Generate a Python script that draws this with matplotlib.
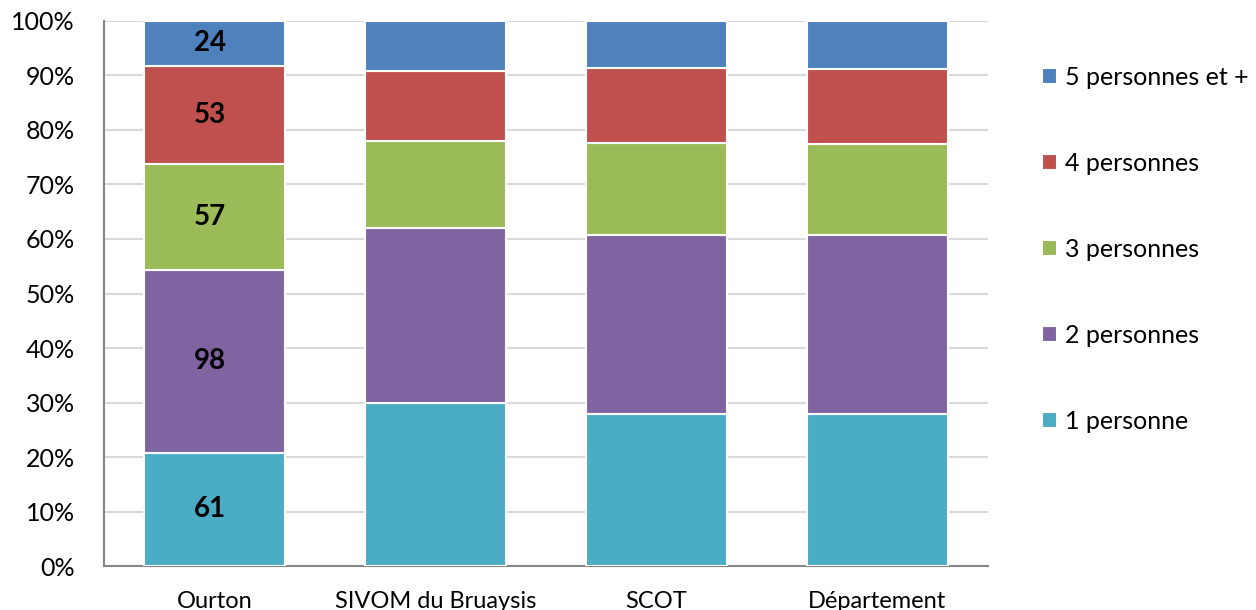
import numpy as np
import matplotlib
matplotlib.use('Agg')
import matplotlib.pyplot as plt

plt.rcParams['font.family'] = ['Lato', 'DejaVu Sans']

# données
categories = ['Ourton', 'SIVOM du Bruaysis', 'SCOT', 'Département']
series = ['1 personne', '2 personnes', '3 personnes', '4 personnes', '5 personnes et +']
colors = ['#4BACC6', '#8064A2', '#9BBB59', '#C0504D', '#4F81BD']

# Ourton : nombre de ménages (étiquettes)
ourton_counts = [61, 98, 57, 53, 24]
# autres territoires : parts en %
sivom = [29.9, 32.1, 16.0, 12.8, 9.2]
scot = [27.9, 32.8, 17.0, 13.7, 8.6]
departement = [27.9, 32.8, 16.7, 13.7, 8.9]

ourton = list(np.array(ourton_counts) / sum(ourton_counts) * 100)
shares = np.array([ourton, sivom, scot, departement]).T  # séries x catégories
shares = shares / shares.sum(axis=0) * 100

fig = plt.figure(figsize=(12.56, 6.10), dpi=100)
ax = fig.add_axes([0.0828, 0.0721, 0.7038, 0.8935])

x = np.arange(len(categories))
bottom = np.zeros(len(categories))
for i, name in enumerate(series):
    ax.bar(x, shares[i], 0.635, bottom=bottom, color=colors[i],
           edgecolor='white', linewidth=1.5, label=name, zorder=3)
    # étiquettes pour Ourton
    ax.text(x[0] - 0.02, bottom[0] + shares[i][0] / 2, str(ourton_counts[i]),
            ha='center', va='center', fontsize=20, fontweight='bold',
            color='black', zorder=4)
    bottom += shares[i]

ax.set_xlim(-0.5, 3.5)
ax.set_ylim(0, 100)
ax.set_yticks(np.arange(0, 101, 10))
ax.set_yticklabels([f'{v}%' for v in range(0, 101, 10)], fontsize=18)
ax.set_xticks(x)
ax.set_xticklabels(categories, fontsize=17)
ax.tick_params(axis='both', length=0)
ax.tick_params(axis='x', pad=18)
ax.tick_params(axis='y', pad=21)
ax.yaxis.grid(True, color='#D9D9D9', linewidth=1.5, zorder=0)
ax.set_axisbelow(True)
for s in ['top', 'right']:
    ax.spines[s].set_visible(False)
for s in ['left', 'bottom']:
    ax.spines[s].set_color('#868686')
    ax.spines[s].set_linewidth(1.5)

handles, labels = ax.get_legend_handles_labels()
ax.legend(handles[::-1], labels[::-1], loc='upper left',
          bbox_to_anchor=(0.8217, 0.908), bbox_transform=fig.transFigure,
          frameon=False, fontsize=18, handlelength=0.6, handleheight=0.6,
          handletextpad=0.3, labelspacing=2.52, borderaxespad=0)

fig.savefig('out.png', dpi=100)
